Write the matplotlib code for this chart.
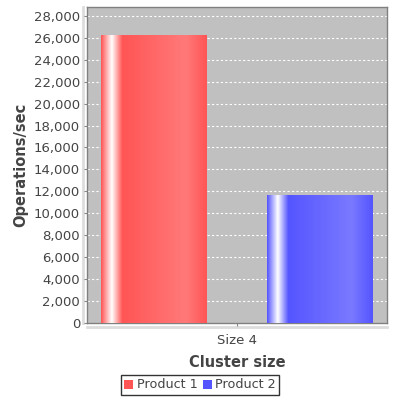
import numpy as np
import matplotlib
matplotlib.use("Agg")
import matplotlib.pyplot as plt
from matplotlib.ticker import FuncFormatter, MultipleLocator

categories = ["Size 4"]
series_names = ["Product 1", "Product 2"]
series_values = [[26200], [11650]]
series_colors = [(255, 85, 85), (85, 85, 255)]


def gradient_row(rgb, n=200):
    # JFreeChart style bar: base -> white -> base -> brighter -> base
    base = np.array(rgb, float) / 255.0
    bright = np.minimum(base / 0.7, 1.0)
    white = np.ones(3)
    stops = [(0.0, base), (0.10, white), (0.20, base), (0.80, bright), (1.0, base)]
    xs = np.linspace(0, 1, n)
    row = np.zeros((n, 3))
    for (a, ca), (b, cb) in zip(stops[:-1], stops[1:]):
        m = (xs >= a) & (xs <= b)
        t = (xs[m] - a) / (b - a)
        row[m] = ca + (cb - ca) * t[:, None]
    return row[None, :, :]


fig = plt.figure(figsize=(4, 4), dpi=100)
ax = fig.add_axes([87 / 400, 77 / 400, 300 / 400, 316 / 400])
ax.set_facecolor("#c0c0c0")

x = np.arange(len(categories))
width = 0.353
offsets = [-0.277, 0.277]
for i, name in enumerate(series_names):
    bars = ax.bar(x + offsets[i], series_values[i], width,
                  color=np.array(series_colors[i]) / 255.0, label=name, zorder=2)
    for b in bars:
        ax.imshow(gradient_row(series_colors[i]), aspect="auto", zorder=3,
                  extent=(b.get_x(), b.get_x() + b.get_width(), 0, b.get_height()),
                  interpolation="bilinear")
ax.set_xlim(-0.5, 0.5)
ax.set_ylim(0, 28800)

ax.yaxis.set_major_locator(MultipleLocator(2000))
ax.yaxis.set_major_formatter(FuncFormatter(lambda v, p: f"{int(v):,}"))
ax.grid(axis="y", color="white", linestyle=(0, (2, 2)), linewidth=0.8, zorder=1)
ax.set_axisbelow(True)
ax.set_xticks(x)
ax.set_xticklabels(categories)

for s in ax.spines.values():
    s.set_color("#808080")
    s.set_linewidth(1)
ax.tick_params(axis="both", colors="#888888", labelcolor="#444444", labelsize=9.5,
               length=2, width=0.8)

# offset light axis lines like the original
ax.plot([-0.015, -0.015], [0, 1], transform=ax.transAxes, color="#dddddd",
        lw=2, clip_on=False, zorder=0)
ax.plot([0, 1], [-0.012, -0.012], transform=ax.transAxes, color="#dddddd",
        lw=2, clip_on=False, zorder=0)
ax.tick_params(axis="y", pad=3)
ax.tick_params(axis="x", pad=6)

ax.set_ylabel("Operations/sec", fontsize=10.5, fontweight="bold", color="#444444", labelpad=4)
ax.set_xlabel("Cluster size", fontsize=10.5, fontweight="bold", color="#444444", labelpad=6)

leg = fig.legend(loc="center", bbox_to_anchor=(0.5, 15 / 400), ncol=2,
                 fontsize=9.2, frameon=True, fancybox=False, handlelength=0.7,
                 handleheight=0.7, handletextpad=0.3, columnspacing=0.4,
                 borderpad=0.25, borderaxespad=0)
leg.get_frame().set_edgecolor("black")
leg.get_frame().set_linewidth(1)
for t in leg.get_texts():
    t.set_color("#444444")

fig.savefig("out.png", dpi=100)
